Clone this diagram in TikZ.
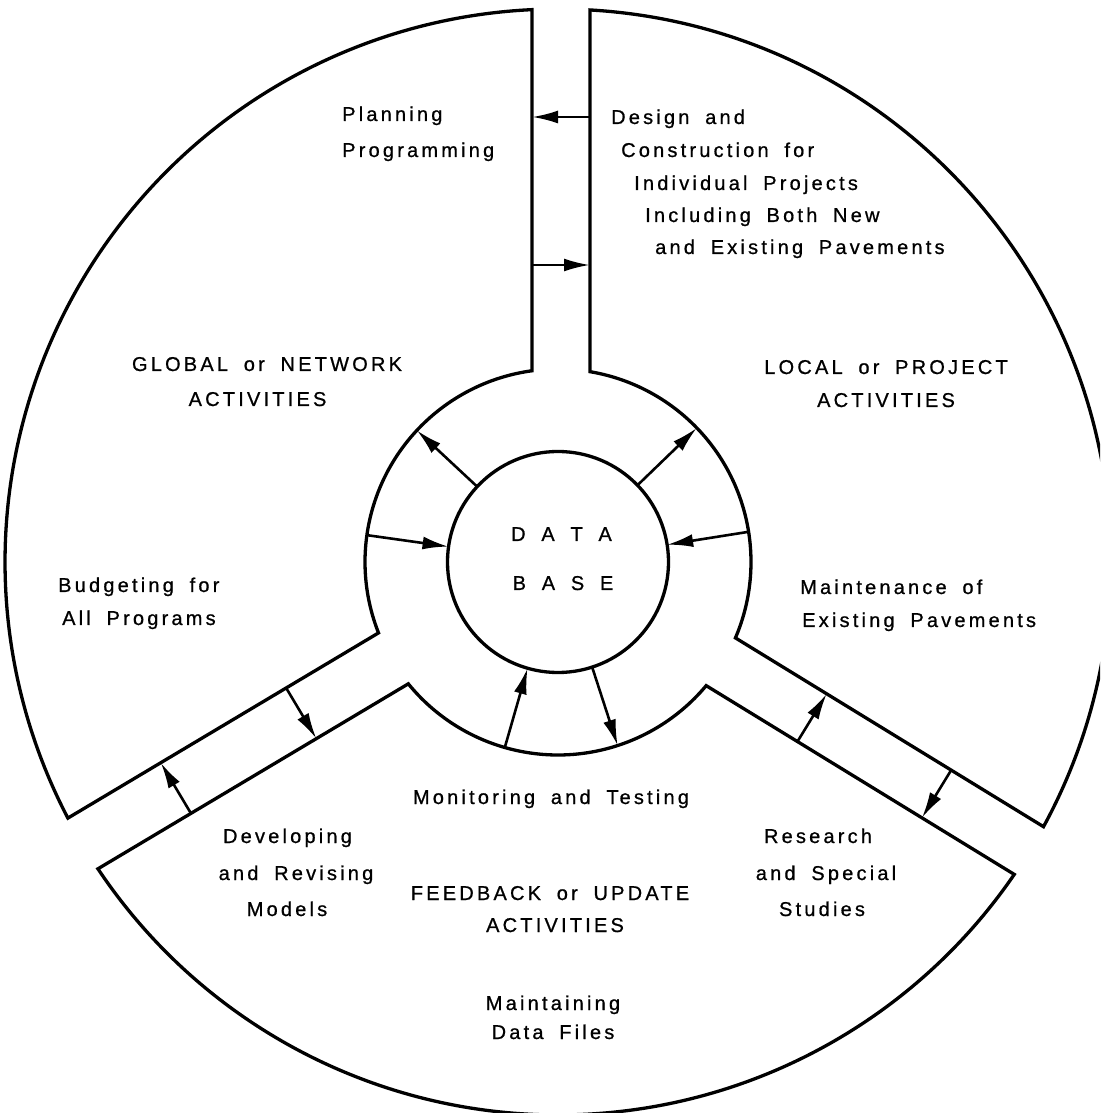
\documentclass[tikz,border=0pt]{standalone}
\usepackage{fontspec}
\newfontfamily\lblfont{Liberation Sans}[LetterSpace=16,WordSpace=1.8,FakeBold=0.8]
\usetikzlibrary{arrows.meta,calc}
\tikzset{
  outline/.style={draw=black, line width=3.3pt, line join=miter},
  flow/.style={draw=black, line width=2.6pt, -{Latex[length=26pt,width=13pt]}},
  lbl/.style={font=\lblfont\fontsize{20pt}{24pt}\selectfont, inner sep=0pt, anchor=base},
  lblw/.style={lbl, anchor=base west},
}
\begin{document}
\begin{tikzpicture}[x=1pt,y=1pt]
\useasboundingbox (-558,-551) rectangle (542,562);
\clip (-558,-551) rectangle (542,562);
\fill[white] (-558,-551) rectangle (542,562);

% sectors
\draw[outline] (92.69:553pt) -- (97.74:193pt)
  arc[start angle=97.74, end angle=201.56, radius=193pt]
  -- (207.59:553pt) arc[start angle=207.59, end angle=92.69, radius=553pt] -- cycle;
\draw[outline] (213.70:553pt) -- (219.14:193pt)
  arc[start angle=219.14, end angle=320.16, radius=193pt]
  -- (325.60:553pt) arc[start angle=325.60, end angle=213.70, radius=553pt] -- cycle;
\draw[outline] (-28.60:553pt) -- (-23.16:193pt)
  arc[start angle=-23.16, end angle=80.46, radius=193pt]
  -- (86.68:553pt) arc[start angle=86.68, end angle=-28.60, radius=553pt] -- cycle;

% data base
\node[circle, draw, line width=3.3pt, minimum size=221pt, inner sep=0pt, outer sep=0pt] (db) at (0,0) {};
\node[lbl] (dbt1) at (3.5,21) {D A T A};
\node[lbl] (dbt2) at (5,-28) {B A S E};

% ring arrows
\coordinate (r137) at (137:193pt);
\coordinate (r44) at (44:193pt);
\coordinate (r172) at (172:193pt);
\coordinate (r9) at (9:193pt);
\coordinate (r254) at (254:193pt);
\coordinate (r288) at (288:193pt);
\draw[flow] (db.137) -- (r137);
\draw[flow] (db.44) -- (r44);
\draw[flow] (r172) -- (db.172);
\draw[flow] (r9) -- (db.9);
\draw[flow] (r254) -- (db.254);
\draw[flow] (db.288) -- (r288);

% channel arrows: top
\coordinate (tcR1) at (32,445);
\coordinate (tcL1) at (-26,445);
\coordinate (tcL2) at (-26,297);
\coordinate (tcR2) at (32,297);
\draw[flow] (tcR1) -- (tcL1);
\draw[flow] (tcL2) -- (tcR2);
% lower-left
\coordinate (llB1) at ($(210.8:444pt)+(300.8:28pt)$);
\coordinate (llL1) at ($(210.8:444pt)+(120.8:31pt)$);
\coordinate (llL2) at ($(210.8:298pt)+(120.8:31pt)$);
\coordinate (llB2) at ($(210.8:298pt)+(300.8:28pt)$);
\draw[flow] (llB1) -- (llL1);
\draw[flow] (llL2) -- (llB2);
% lower-right
\coordinate (lrB1) at ($(-31.5:298pt)+(-121.5:28pt)$);
\coordinate (lrR1) at ($(-31.5:298pt)+(58.5:28pt)$);
\coordinate (lrR2) at ($(-31.5:444pt)+(58.5:28pt)$);
\coordinate (lrB2) at ($(-31.5:444pt)+(-121.5:28pt)$);
\draw[flow] (lrB1) -- (lrR1);
\draw[flow] (lrR2) -- (lrB2);

% labels: left sector
\node[lblw] (plan) at (-216,441) {Planning};
\node[lblw] (prog) at (-216,405) {Programming};
\node[lbl] (glob1) at (-291,191) {GLOBAL or NETWORK};
\node[lbl] (glob2) at (-300.5,156) {ACTIVITIES};
\node[lblw] (budg1) at (-500,-30) {Budgeting for};
\node[lblw] (budg2) at (-496,-63) {All Programs};

% labels: right sector
\node[lblw] (des1) at (53,438) {Design and};
\node[lblw] (des2) at (63,405) {Construction for};
\node[lblw] (des3) at (76,372) {Individual Projects};
\node[lblw] (des4) at (87,340) {Including Both New};
\node[lblw] (des5) at (97,308) {and Existing Pavements};
\node[lbl] (loc1) at (328,188) {LOCAL or PROJECT};
\node[lbl] (loc2) at (328,155) {ACTIVITIES};
\node[lblw] (mnt1) at (242,-32) {Maintenance of};
\node[lblw] (mnt2) at (244,-65) {Existing Pavements};

% labels: bottom sector
\node[lbl] (mon) at (-7,-242) {Monitoring and Testing};
\node[lbl] (dev1) at (-270.5,-281) {Developing};
\node[lbl] (dev2) at (-262,-318) {and Revising};
\node[lbl] (dev3) at (-271,-354) {Models};
\node[lbl] (fb1) at (-8,-338) {FEEDBACK or UPDATE};
\node[lbl] (fb2) at (-3,-370) {ACTIVITIES};
\node[lbl] (res1) at (260,-281) {Research};
\node[lbl] (res2) at (268,-318) {and Special};
\node[lbl] (res3) at (264,-354) {Studies};
\node[lbl] (mdf1) at (-5,-448) {Maintaining};
\node[lbl] (mdf2) at (-5,-477) {Data Files};
\end{tikzpicture}
\end{document}
